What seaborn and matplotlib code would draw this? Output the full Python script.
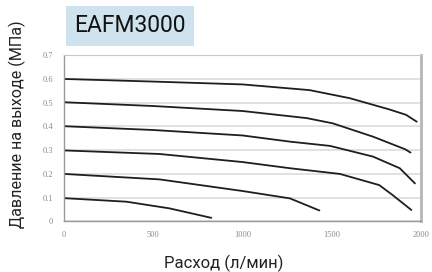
import matplotlib
matplotlib.use("Agg")
import matplotlib.pyplot as plt
import seaborn as sns

# flow (l/min) vs outlet pressure (MPa), one curve per set pressure
flow_06 = [0, 500, 1000, 1375, 1600, 1820, 1915, 1975]
pres_06 = [0.600, 0.589, 0.577, 0.553, 0.519, 0.472, 0.449, 0.420]
flow_05 = [0, 500, 1000, 1360, 1505, 1730, 1910, 1940]
pres_05 = [0.502, 0.486, 0.465, 0.435, 0.413, 0.357, 0.304, 0.290]
flow_04 = [0, 500, 1000, 1265, 1490, 1730, 1880, 1965]
pres_04 = [0.401, 0.385, 0.362, 0.336, 0.318, 0.273, 0.224, 0.160]
flow_03 = [0, 535, 1000, 1265, 1545, 1765, 1840, 1945]
pres_03 = [0.299, 0.284, 0.250, 0.224, 0.200, 0.153, 0.111, 0.048]
flow_02 = [0, 535, 1000, 1265, 1430]
pres_02 = [0.200, 0.177, 0.128, 0.097, 0.046]
flow_01 = [0, 350, 590, 825]
pres_01 = [0.098, 0.083, 0.055, 0.015]

curves = [(flow_06, pres_06), (flow_05, pres_05), (flow_04, pres_04),
          (flow_03, pres_03), (flow_02, pres_02), (flow_01, pres_01)]

xticks = [0, 500, 1000, 1500, 2000]
yticks = [0, 0.1, 0.2, 0.3, 0.4, 0.5, 0.6, 0.7]
ytick_labels = ["0", "0.1", "0.2", "0.3", "0.4", "0.5", "0.6", "0.7"]

title = "EAFM3000"
xlabel = "Расход (л/мин)"
ylabel = "Давление на выходе (МПа)"

sns.set_style("white")
plt.rcParams['font.family'] = ['Roboto', 'DejaVu Sans']

fig = plt.figure(figsize=(4.32, 2.72), dpi=100)
ax = fig.add_axes([0.148, 0.186, 0.827, 0.611])

for fx, py in curves:
    sns.lineplot(x=fx, y=py, ax=ax, color="#1e1e1e", linewidth=1.3, sort=False)

ax.set_xlim(0, 2000)
ax.set_ylim(0, 0.7)
ax.set_xticks(xticks)
ax.set_yticks(yticks)
ax.set_xticklabels([str(t) for t in xticks], family="Liberation Serif",
                   fontsize=6, color="#8a8a8a")
ax.set_yticklabels(ytick_labels, family="Liberation Serif",
                   fontsize=6, color="#8a8a8a")
ax.tick_params(axis="x", direction="in", length=3, color="#b0b0b0", pad=7)
ax.tick_params(axis="y", length=0, pad=8)
ax.grid(axis="y", color="#dcdcdc", linewidth=1.2)
ax.set_axisbelow(True)

for side in ["left", "bottom"]:
    ax.spines[side].set_color("#999999")
    ax.spines[side].set_linewidth(1.0)
ax.spines["top"].set_color("#c8c8c8")
ax.spines["right"].set_color("#b5b5b5")
ax.spines["right"].set_linewidth(2.0)

fig.text(0.518, 0.033, xlabel, fontsize=12, color="#222222",
         ha="center", va="center")
fig.text(0.040, 0.542, ylabel, rotation=90, fontsize=11.6, color="#222222",
         ha="center", va="center")

fig.text(0.301, 0.905, title, fontsize=16.5, color="#111111", ha="center",
         va="center",
         bbox=dict(boxstyle="square,pad=0.36", facecolor="#cfe3ee",
                   edgecolor="none"))

fig.savefig("out.png", dpi=100)
